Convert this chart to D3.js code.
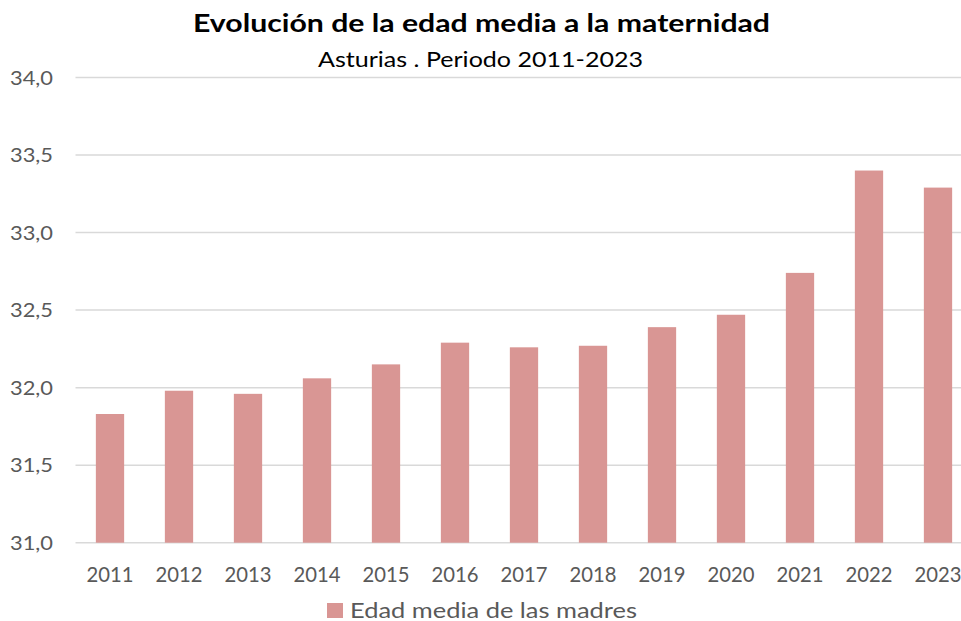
<!DOCTYPE html>
<html>
<head>
<meta charset="utf-8">
<script src="https://cdn.jsdelivr.net/npm/d3@7"></script>
<style>
  body { margin: 0; background: #fff; }
  svg { display: block; font-family: Lato, "Open Sans", sans-serif; }
</style>
</head>
<body>
<div id="chart"></div>
<script>
// datos: edad media a la maternidad, Asturias
const years = ["2011","2012","2013","2014","2015","2016","2017","2018","2019","2020","2021","2022","2023"];
const edadMedia = [31.83, 31.98, 31.96, 32.06, 32.15, 32.29, 32.26, 32.27, 32.39, 32.47, 32.74, 33.40, 33.29];
const yTicks = [31.0, 31.5, 32.0, 32.5, 33.0, 33.5, 34.0];
const serieName = "Edad media de las madres";

const width = 961, height = 621;
const svg = d3.select("#chart").append("svg")
    .attr("width", width)
    .attr("height", height);

const x = d3.scaleBand()
    .domain(years)
    .range([75.5, 972.5])   // el grafico original esta cortado por la derecha
    .paddingInner(0.59)
    .paddingOuter(0.295);

const y = d3.scaleLinear()
    .domain([31, 34])
    .range([542.7, 77.5]);

// lineas de division
svg.append("g")
    .selectAll("line")
    .data(yTicks)
    .enter().append("line")
    .attr("x1", 75.5)
    .attr("x2", width)
    .attr("y1", d => y(d))
    .attr("y2", d => y(d))
    .style("stroke", "#d9d9d9")
    .style("stroke-width", 1.5);

// eje y
const fmt = d => d3.format(".1f")(d).replace(".", ",");
svg.append("g")
    .selectAll("text")
    .data(yTicks)
    .enter().append("text")
    .attr("x", 53)
    .attr("y", d => y(d))
    .attr("dy", "0.35em")
    .attr("text-anchor", "end")
    .attr("textLength", 43)
    .attr("lengthAdjust", "spacingAndGlyphs")
    .style("font-size", "20px")
    .style("fill", "#595959")
    .text(fmt);

// barras
svg.append("g")
    .selectAll("rect")
    .data(edadMedia)
    .enter().append("rect")
    .attr("x", (d, i) => x(years[i]))
    .attr("width", x.bandwidth())
    .attr("y", d => y(d))
    .attr("height", d => y(31) - y(d))
    .style("fill", "#d99694");

// eje x
svg.append("g")
    .selectAll("text")
    .data(years)
    .enter().append("text")
    .attr("x", d => x(d) + x.bandwidth() / 2)
    .attr("y", 582)
    .attr("text-anchor", "middle")
    .attr("textLength", 47)
    .attr("lengthAdjust", "spacingAndGlyphs")
    .style("font-size", "20.5px")
    .style("fill", "#595959")
    .text(d => d);

// titulo (el original aparece algo estirado en horizontal)
svg.append("text")
    .attr("x", 481.5)
    .attr("y", 32)
    .attr("text-anchor", "middle")
    .attr("textLength", 577)
    .attr("lengthAdjust", "spacingAndGlyphs")
    .style("font-size", "24px")
    .style("font-weight", "bold")
    .style("fill", "#000")
    .text("Evolución de la edad media a la maternidad");

svg.append("text")
    .attr("x", 480.5)
    .attr("y", 67)
    .attr("text-anchor", "middle")
    .attr("textLength", 325)
    .attr("lengthAdjust", "spacingAndGlyphs")
    .style("font-size", "21px")
    .style("fill", "#000")
    .text("Asturias . Periodo 2011-2023");

// leyenda
const legend = svg.append("g");
legend.append("rect")
    .attr("x", 327)
    .attr("y", 603)
    .attr("width", 16)
    .attr("height", 15)
    .style("fill", "#d99694");
legend.append("text")
    .attr("x", 350)
    .attr("y", 618)
    .attr("textLength", 287)
    .attr("lengthAdjust", "spacingAndGlyphs")
    .style("font-size", "21px")
    .style("fill", "#595959")
    .text(serieName);
</script>
</body>
</html>
